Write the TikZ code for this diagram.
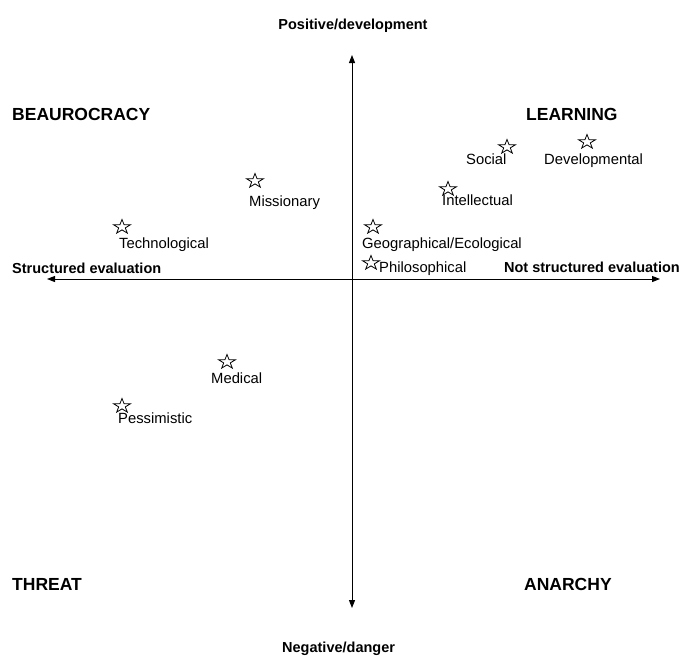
\documentclass[tikz,border=0pt]{standalone}
\usepackage{fontspec}
\setmainfont{Liberation Sans}
\usetikzlibrary{arrows.meta}

\tikzset{
  hstar/.pic={\draw[line width=0.8pt] (-90:7.5) \foreach \k in {1,...,9} { -- ({-90+36*\k}:{ifthenelse(isodd(\k),2.9,7.5)}) } -- cycle;},
}

\begin{document}
\begin{tikzpicture}[x=1pt,y=-1pt,
  lbl/.style={font=\fontsize{14.8}{17}\selectfont, inner sep=0pt, anchor=base west},
  axlbl/.style={font=\fontsize{14.5}{17}\selectfont\bfseries, inner sep=0pt},
  quad/.style={font=\fontsize{17.5}{20}\selectfont\bfseries, inner sep=0pt, anchor=base west},
  axis/.style={line width=1pt, {Triangle[length=8pt,width=6pt]}-{Triangle[length=8pt,width=6pt]}}]

\useasboundingbox (0,0) rectangle (685,656);

% axes
\coordinate (top) at (352,55);
\coordinate (bot) at (352,608);
\coordinate (lft) at (47,279);
\coordinate (rgt) at (660,279);
\draw[axis] (bot) -- (top);
\draw[axis] (lft) -- (rgt);

\node[axlbl, anchor=base] (pos) at (353,29) {Positive/development};
\node[axlbl, anchor=base west] (neg) at (282,652) {Negative/danger};
\node[axlbl, anchor=base west] (str) at (12,273) {Structured evaluation};
\node[axlbl, anchor=base east] (nstr) at (680,272) {Not structured evaluation};

% quadrants
\node[quad] (beau) at (12,120) {BEAUROCRACY};
\node[quad] (learn) at (526,120) {LEARNING};
\node[quad] (threat) at (12,590) {THREAT};
\node[quad] (anarchy) at (524,590) {ANARCHY};

% stars with their labels
\foreach \sx/\sy/\lx/\ly/\txt [count=\i] in {
  255/181/249/206/Missionary,
  122/227/119/248/Technological,
  507/147/466/164/Social,
  587/142/544/164/Developmental,
  448/189/442/205/Intellectual,
  373/227/362/248/{Geographical/Ecological},
  371/263/379/272/Philosophical,
  227/362/211/383/Medical,
  122/406/118/423/Pessimistic} {
\pic[xscale=1.2] at (\sx,\sy) {hstar};
\node[lbl] (t\i) at (\lx,\ly) {\txt};
}

\end{tikzpicture}
\end{document}
